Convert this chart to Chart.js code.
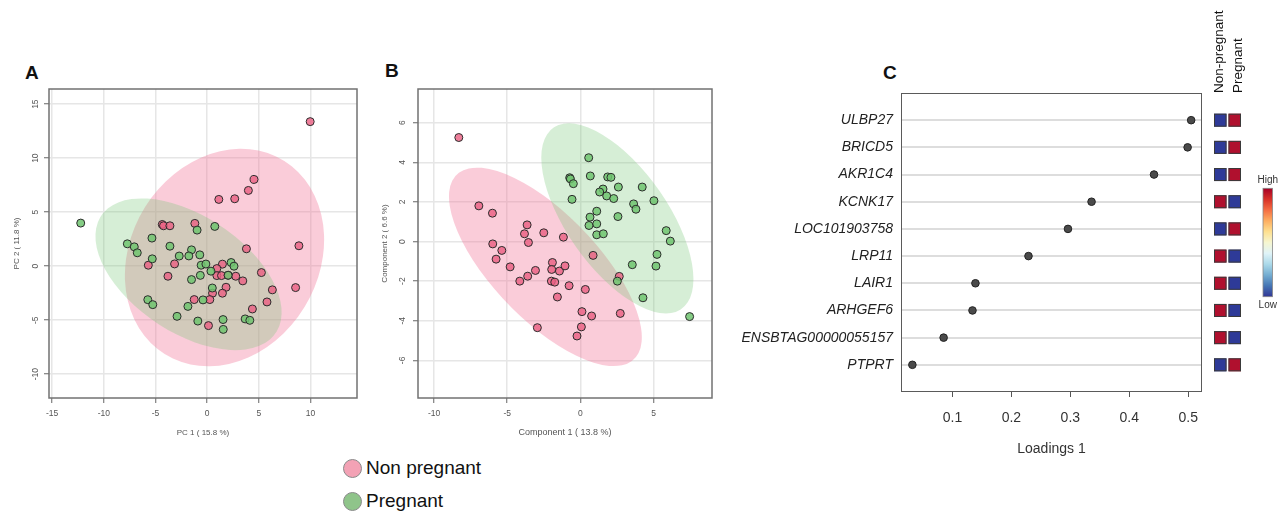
<!DOCTYPE html>
<html><head><meta charset="utf-8">
<script src="https://cdn.jsdelivr.net/npm/chart.js@4.4.0/dist/chart.umd.min.js"></script>
<style>
html,body{margin:0;padding:0;background:#fff;width:1288px;height:511px;overflow:hidden;font-family:'Liberation Sans',Arial,sans-serif;}
canvas{position:absolute;}
.lbl{position:absolute;font-weight:bold;font-size:19px;color:#111;line-height:1;}
.leg{position:absolute;font-size:19px;color:#111;display:flex;align-items:center;height:22px;}
.dot{width:17px;height:17px;border-radius:50%;border:1.5px solid #8a8a8a;margin-right:4px;box-sizing:content-box;}
</style></head>
<body>
<div class="lbl" style="left:25px;top:63px;">A</div>
<div class="lbl" style="left:385px;top:61px;">B</div>
<div class="lbl" style="left:883px;top:63px;">C</div>
<canvas id="cA" width="370" height="390" style="left:0;top:60px;"></canvas>
<canvas id="cB" width="350" height="390" style="left:370px;top:60px;"></canvas>
<canvas id="cC" width="563" height="470" style="left:725px;top:0;"></canvas>
<div class="leg" style="left:343px;top:457px;"><span class="dot" style="background:#f3a2b5"></span>Non pregnant</div>
<div class="leg" style="left:343px;top:490px;"><span class="dot" style="background:#8fc48a"></span>Pregnant</div>
<script>
// ---------- Panel A: PCA ----------
const pcaNonPregnantX = [9.97,4.54,3.99,2.67,1.13,8.88,3.80,-4.34,-4.22,-3.60,-1.19,-5.69,-3.15,-3.79,1.48,0.94,0.94,1.39,2.03,2.77,3.45,5.25,6.31,5.79,4.38,8.56,1.83,1.48,0.52,0.26,-1.25,0.13];
const pcaNonPregnantY = [13.38,8.03,7.01,6.24,6.18,1.89,1.61,3.86,3.74,3.74,3.96,0.09,0.21,-0.93,0.19,-0.22,-0.87,-0.87,-0.84,-0.93,-1.36,-0.59,-2.19,-3.31,-3.96,-1.98,-1.95,-2.50,-2.50,-3.09,-3.09,-5.50];
const pcaPregnantX = [-12.23,-7.72,-7.05,-6.76,-5.34,-5.31,-3.60,-2.70,-1.51,-1.77,-0.71,-0.97,0.74,-0.58,-0.12,0.37,-0.66,-1.51,2.32,2.60,2.03,0.50,-5.74,-5.26,-1.86,-2.91,-0.40,-0.90,1.54,1.56,3.68,4.13];
const pcaPregnantY = [3.99,2.07,1.79,1.24,2.60,0.68,1.85,0.94,1.51,0.95,1.05,3.34,3.68,0.09,0.20,-0.46,-0.85,-1.24,0.34,0.00,-0.84,-2.02,-3.10,-3.56,-3.72,-4.64,-3.12,-5.08,-4.94,-5.85,-4.88,-5.01];
const pcaXTicks = [-15,-10,-5,0,5,10];
const pcaYTicks = [-10,-5,0,5,10,15];
// confidence ellipses [cx, cy, semi-major, semi-minor, angle deg]
const pcaEllipseNonPregnant = [1.68,0.80,10.66,8.98,52.4];
const pcaEllipsePregnant = [-1.80,-0.75,10.04,5.45,-31.7];

// ---------- Panel B: PLS-DA ----------
const plsNonPregnantX = [-8.31,-6.94,-6.01,-5.99,-5.37,-5.76,-4.80,-4.14,-3.60,-3.64,-3.82,-3.55,-2.50,-3.07,-2.94,-1.91,-1.96,-1.43,-1.05,-1.16,-1.98,-1.75,-1.57,-0.77,0.34,0.11,0.77,0.07,-0.23,2.73,2.66,0.87];
const plsNonPregnantY = [5.25,1.80,1.43,-0.12,-0.45,-0.89,-1.28,-2.00,-1.75,0.84,0.39,-0.05,0.44,-1.46,-4.35,-1.06,-1.41,-1.49,-1.23,0.22,-2.00,-2.05,-2.80,-2.23,-2.42,-3.54,-3.76,-4.31,-4.77,-3.63,-1.76,-0.70];
const plsPregnantX = [0.57,0.68,-0.73,-0.68,-0.48,-0.57,1.55,1.32,1.80,1.87,2.09,2.28,2.60,4.23,3.64,3.80,5.03,1.12,0.66,0.59,1.12,1.12,1.57,2.57,5.87,6.15,5.24,5.17,3.55,2.53,4.28,7.47];
const plsPregnantY = [4.23,3.31,3.22,3.16,2.92,2.13,2.65,2.50,2.30,3.26,3.24,2.17,2.75,2.75,1.90,1.63,2.06,1.53,1.23,0.81,0.89,0.34,0.39,1.26,0.55,0.02,-0.65,-1.24,-1.17,-2.00,-2.84,-3.79];
const plsXTicks = [-10,-5,0,5];
const plsYTicks = [-6,-4,-2,0,2,4,6];
const plsEllipseNonPregnant = [-2.39,-1.28,7.71,3.02,-34.3];
const plsEllipsePregnant = [2.53,1.17,6.41,3.00,-41.4];

// ---------- Panel C: loadings ----------
const geneNames = ['ULBP27','BRICD5','AKR1C4','KCNK17','LOC101903758','LRP11','LAIR1','ARHGEF6','ENSBTAG00000055157','PTPRT'];
const loadings1 = [0.505,0.499,0.442,0.336,0.296,0.229,0.139,0.134,0.085,0.032];
const levelNonPregnant = ['low','low','low','high','low','high','high','high','high','low'];
const levelPregnant = ['high','high','high','low','high','low','low','low','low','high'];
const loadingTicks = [0.1,0.2,0.3,0.4,0.5];
const heatColumns = ['Non-pregnant','Pregnant'];

const FAMILY = "'Liberation Sans', Arial, sans-serif";
Chart.defaults.font.family = FAMILY;
Chart.defaults.animation = false;

const PINK_PT = 'rgba(234,98,132,0.82)';
const GREEN_PT = 'rgba(112,196,112,0.85)';
const PINK_EL = 'rgba(240,110,145,0.35)';
const GREEN_EL = 'rgba(120,200,120,0.30)';

function zip(xs, ys){ return xs.map((x,i)=>({x:x, y:ys[i]})); }

const panelDeco = {
  id:'panelDeco',
  beforeDatasetsDraw(chart, args, o){
    const {ctx, chartArea:ca, scales:{x, y}} = chart;
    const kx = x.getPixelForValue(1) - x.getPixelForValue(0);
    const ky = y.getPixelForValue(0) - y.getPixelForValue(1);
    (o.ellipses||[]).forEach(e=>{
      const [cx, cy, a, b, ang] = e.p;
      ctx.save();
      ctx.beginPath(); ctx.rect(ca.left, ca.top, ca.width, ca.height); ctx.clip();
      ctx.save();
      ctx.translate(x.getPixelForValue(cx), y.getPixelForValue(cy));
      ctx.scale(kx, -ky);
      ctx.rotate(ang*Math.PI/180);
      ctx.scale(a, b);
      ctx.beginPath(); ctx.arc(0,0,1,0,Math.PI*2);
      ctx.restore();
      ctx.fillStyle = e.color; ctx.fill();
      ctx.restore();
    });
  },
  afterDraw(chart, args, o){
    const {ctx, chartArea:ca, scales:{y}} = chart;
    ctx.save();
    ctx.strokeStyle = o.frame || '#777'; ctx.lineWidth = 1.5;
    ctx.strokeRect(ca.left, ca.top, ca.width, ca.height);
    ctx.font = '8.5px ' + FAMILY; ctx.fillStyle = '#555';
    ctx.textAlign = 'center'; ctx.textBaseline = 'middle';
    (o.yTicks||[]).forEach(v=>{
      ctx.save();
      ctx.translate(o.yLabelX, y.getPixelForValue(v));
      ctx.rotate(-Math.PI/2);
      ctx.fillText(String(v), 0, 0);
      ctx.restore();
    });
    ctx.restore();
  }
};

function scatterPanel(id, c){
  return new Chart(document.getElementById(id), {
    type:'scatter',
    data:{datasets:[
      {label:'Pregnant', data:zip(c.gx,c.gy), backgroundColor:GREEN_PT, borderColor:'#2b2b2b', borderWidth:1, pointRadius:4, pointHoverRadius:4},
      {label:'Non pregnant', data:zip(c.px,c.py), backgroundColor:PINK_PT, borderColor:'#2b2b2b', borderWidth:1, pointRadius:4, pointHoverRadius:4}
    ]},
    options:{
      responsive:false, animation:false, events:[],
      layout:{padding:c.pad},
      plugins:{legend:{display:false}, tooltip:{enabled:false},
        panelDeco:{ellipses:[{p:c.elP, color:PINK_EL},{p:c.elG, color:GREEN_EL}], yTicks:c.yTicks, yLabelX:c.yLabelX, frame:'#727272'}},
      scales:{
        x:{type:'linear', min:c.xMin, max:c.xMax,
          afterBuildTicks:s=>{ s.ticks = c.xTicks.map(v=>({value:v})); },
          afterFit:s=>{ s.height = c.xH; },
          grid:{color:'#e6e6e6', lineWidth:1.5, tickLength:5, tickColor:'#666', tickWidth:1},
          border:{display:false},
          ticks:{font:{size:8.5}, color:'#555', padding:c.xTickPad, maxRotation:0, autoSkip:false, callback:v=>String(v)},
          title:{display:true, text:c.xTitle, font:{size:c.xTitleSize}, color:'#555', padding:0}},
        y:{type:'linear', min:c.yMin, max:c.yMax,
          afterBuildTicks:s=>{ s.ticks = c.yTicks.map(v=>({value:v})); },
          afterFit:s=>{ s.width = c.yW; },
          grid:{color:'#e6e6e6', lineWidth:1.5, tickLength:5, tickColor:'#666', tickWidth:1},
          border:{display:false},
          ticks:{display:false},
          title:{display:true, text:c.yTitle, font:{size:8}, color:'#555', padding:0}}
      }
    },
    plugins:[panelDeco]
  });
}

scatterPanel('cA', {
  px:pcaNonPregnantX, py:pcaNonPregnantY, gx:pcaPregnantX, gy:pcaPregnantY,
  elP:pcaEllipseNonPregnant, elG:pcaEllipsePregnant,
  xTicks:pcaXTicks, yTicks:pcaYTicks, xMin:-15.3, xMax:14.5, yMin:-12.2, yMax:16.4,
  pad:{left:12.2, right:13, top:29, bottom:12.2}, xH:39.8, yW:36.8, xTickPad:6, yLabelX:36,
  xTitle:'PC 1 ( 15.8 %)', yTitle:'PC 2 ( 11.8 %)', xTitleSize:8
});

scatterPanel('cB', {
  px:plsNonPregnantX, py:plsNonPregnantY, gx:plsPregnantX, gy:plsPregnantY,
  elP:plsEllipseNonPregnant, elG:plsEllipsePregnant,
  xTicks:plsXTicks, yTicks:plsYTicks, xMin:-11.1, xMax:9.0, yMin:-7.9, yMax:7.7,
  pad:{left:10.2, right:8, top:29, bottom:11.9}, xH:40.1, yW:37.8, xTickPad:6, yLabelX:32.7,
  xTitle:'Component 1 ( 13.8 %)', yTitle:'Component 2 ( 6.6 %)', xTitleSize:9
});

// ---------- Panel C chart ----------
const heatDeco = {
  id:'heatDeco',
  afterDraw(chart){
    const {ctx, chartArea:ca, scales:{y}} = chart;
    ctx.save();
    ctx.strokeStyle = '#5a5a5a'; ctx.lineWidth = 1;
    ctx.strokeRect(ca.left+0.5, ca.top+0.5, ca.width-1, ca.height-1);
    const colOf = v => v === 'high' ? '#b0102e' : '#2e3a98';
    const cols = [levelNonPregnant, levelPregnant];
    const x0 = ca.right + 12;
    cols.forEach((lev, j)=>{
      lev.forEach((v, i)=>{
        const py = y.getPixelForValue(i);
        const rx = x0 + j*14.5;
        ctx.fillStyle = colOf(v);
        ctx.fillRect(rx, py-6.5, 12.5, 13);
        ctx.strokeStyle = '#3a3a3a';
        ctx.strokeRect(rx+0.5, py-6, 11.5, 12);
      });
    });
    // column labels
    ctx.fillStyle = '#111'; ctx.font = '13.5px ' + FAMILY;
    ctx.textAlign = 'left'; ctx.textBaseline = 'middle';
    heatColumns.forEach((t, j)=>{
      ctx.save();
      ctx.translate(ca.right + 17 + j*19.3, ca.top);
      ctx.rotate(-Math.PI/2);
      ctx.fillText(t, 0, 0);
      ctx.restore();
    });
    // colour key
    const bx = ca.right + 61, bw = 9.5, bt = 188.3, bb = 296.7;
    const g = ctx.createLinearGradient(0, bt, 0, bb);
    const stops = ['#a50026','#d73027','#f46d43','#fdae61','#fee090','#f6f6d0','#e0f3f8','#abd9e9','#74add1','#4575b4','#313695'];
    stops.forEach((s, k)=> g.addColorStop(k/(stops.length-1), s));
    ctx.fillStyle = g; ctx.fillRect(bx, bt, bw, bb-bt);
    ctx.strokeStyle = '#888'; ctx.lineWidth = 0.8; ctx.strokeRect(bx, bt, bw, bb-bt);
    ctx.fillStyle = '#333'; ctx.font = '10px ' + FAMILY; ctx.textAlign = 'center';
    ctx.fillText('High', bx + bw/2, 180);
    ctx.fillText('Low', bx + bw/2, 305.7);
    ctx.restore();
  }
};

new Chart(document.getElementById('cC'), {
  type:'scatter',
  data:{datasets:[{label:'Loadings 1', data:loadings1.map((v,i)=>({x:v, y:i})),
    backgroundColor:'#4a4a4a', borderColor:'#222', borderWidth:1, pointRadius:3.8, pointHoverRadius:3.8}]},
  options:{
    responsive:false, animation:false, events:[],
    layout:{padding:{left:0, right:86, top:93, bottom:12.6}},
    plugins:{legend:{display:false}, tooltip:{enabled:false}},
    scales:{
      x:{type:'linear', min:0.0127, max:0.5234,
        afterBuildTicks:s=>{ s.ticks = loadingTicks.map(v=>({value:v})); },
        afterFit:s=>{ s.height = 65.4; },
        grid:{drawOnChartArea:false, drawTicks:true, tickLength:5, tickColor:'#555', tickWidth:1},
        border:{display:false},
        ticks:{font:{size:14}, color:'#333', padding:12.6, maxRotation:0, autoSkip:false, callback:v=>String(v)},
        title:{display:true, text:'Loadings 1', font:{size:14}, color:'#333', padding:0}},
      y:{type:'linear', min:-1, max:10, reverse:true,
        afterBuildTicks:s=>{ s.ticks = geneNames.map((g,i)=>({value:i})); },
        afterFit:s=>{ s.width = 176; },
        grid:{color:'#dddddd', lineWidth:2, drawTicks:false},
        border:{display:false},
        ticks:{font:{size:14, style:'italic'}, color:'#222', padding:8, autoSkip:false, callback:v=>geneNames[v]}}
    }
  },
  plugins:[heatDeco]
});
</script>
</body></html>
